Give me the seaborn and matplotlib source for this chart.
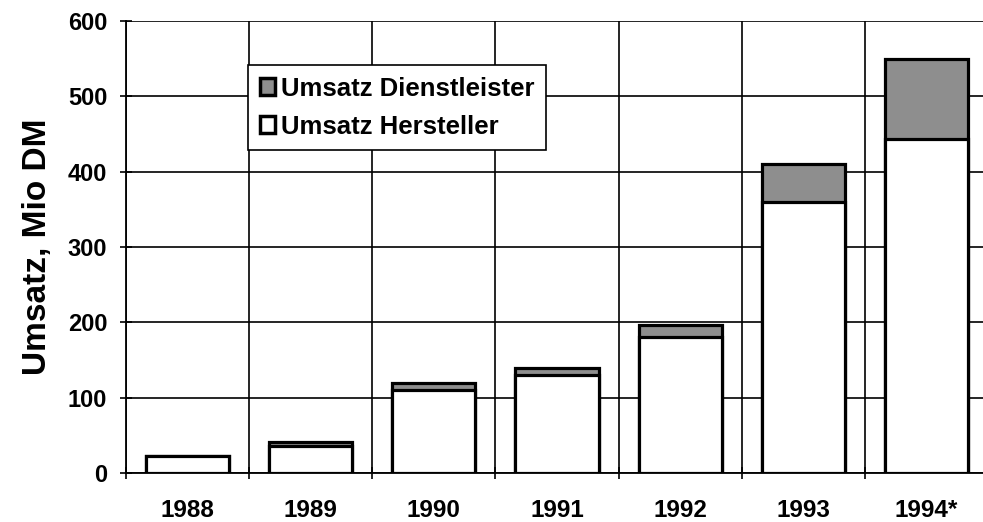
import matplotlib
matplotlib.use("Agg")
import matplotlib.pyplot as plt
import seaborn as sns
import pandas as pd
from matplotlib.patches import Patch
from matplotlib.ticker import FixedLocator

# Data
years = ["1988", "1989", "1990", "1991", "1992", "1993", "1994*"]
hersteller = [23, 36, 110, 130, 180, 360, 443]
dienstleister = [0, 5, 9, 10, 17, 50, 107]
yticks = [0, 100, 200, 300, 400, 500, 600]

df = pd.DataFrame({"Jahr": years, "Hersteller": hersteller, "Dienstleister": dienstleister})
df["Gesamt"] = df["Hersteller"] + df["Dienstleister"]

sns.set_theme(style="white")
plt.rcParams["font.family"] = ["Liberation Sans", "DejaVu Sans"]
plt.rcParams["font.weight"] = "bold"
plt.rcParams["text.color"] = "black"

W, H = 983, 522
fig = plt.figure(figsize=(W / 100, H / 100), dpi=100)
ax = fig.add_axes([126 / W, (H - 473) / H, 862 / W, 452 / H])

gray = "#8e8e8e"
sns.barplot(data=df, x="Jahr", y="Gesamt", color=gray, saturation=1, edgecolor="black",
            linewidth=2.3, width=0.675, ax=ax, zorder=3)
sns.barplot(data=df, x="Jahr", y="Hersteller", color="white", saturation=1, edgecolor="black",
            linewidth=2.3, width=0.675, ax=ax, zorder=4)

ax.set_xlim(-0.5, len(years) - 0.5)
ax.set_ylim(0, 600)
ax.set_yticks(yticks)
ax.set_yticklabels([str(v) for v in yticks])

# category boundaries as minor ticks for vertical gridlines
ax.xaxis.set_minor_locator(FixedLocator([i - 0.5 for i in range(len(years) + 1)]))
ax.set_axisbelow(True)
ax.grid(False)
ax.grid(True, axis="y", which="major", color="black", linewidth=1.2)
ax.grid(True, axis="x", which="minor", color="black", linewidth=1.2)

ax.tick_params(axis="x", which="major", length=0, pad=19, labelsize=17.5)
ax.tick_params(axis="x", which="minor", direction="inout", length=8, width=1.2, color="black", bottom=True)
ax.tick_params(axis="y", which="major", direction="inout", length=9, width=1.2, color="black",
               left=True, pad=9, labelsize=17)
for lab in ax.get_xticklabels() + ax.get_yticklabels():
    lab.set_fontweight("bold")
    lab.set_color("black")

ax.set_xlabel("")
ax.set_ylabel("Umsatz, Mio DM", fontsize=24, fontweight="bold", color="black")
ax.yaxis.set_label_coords(-0.085, 0.5)

for s in ["top", "right"]:
    ax.spines[s].set_visible(False)
for s in ["left", "bottom"]:
    ax.spines[s].set_color("black")
    ax.spines[s].set_linewidth(1.3)

handles = [Patch(facecolor=gray, edgecolor="black", linewidth=2.5, label="Umsatz Dienstleister"),
           Patch(facecolor="white", edgecolor="black", linewidth=2.5, label="Umsatz Hersteller")]
leg = ax.legend(handles=handles, loc="upper left", bbox_to_anchor=(0.1415, 0.9027),
                borderaxespad=0, fancybox=False, shadow=False, framealpha=1,
                edgecolor="black", prop={"size": 18.5, "weight": "bold"},
                handlelength=0.6, handleheight=0.6, handletextpad=0.25,
                labelspacing=0.55, borderpad=0.45)
leg.get_frame().set_linewidth(1.2)
leg.set_zorder(10)
for t in leg.get_texts():
    t.set_color("black")

fig.savefig("out.png", dpi=100)
